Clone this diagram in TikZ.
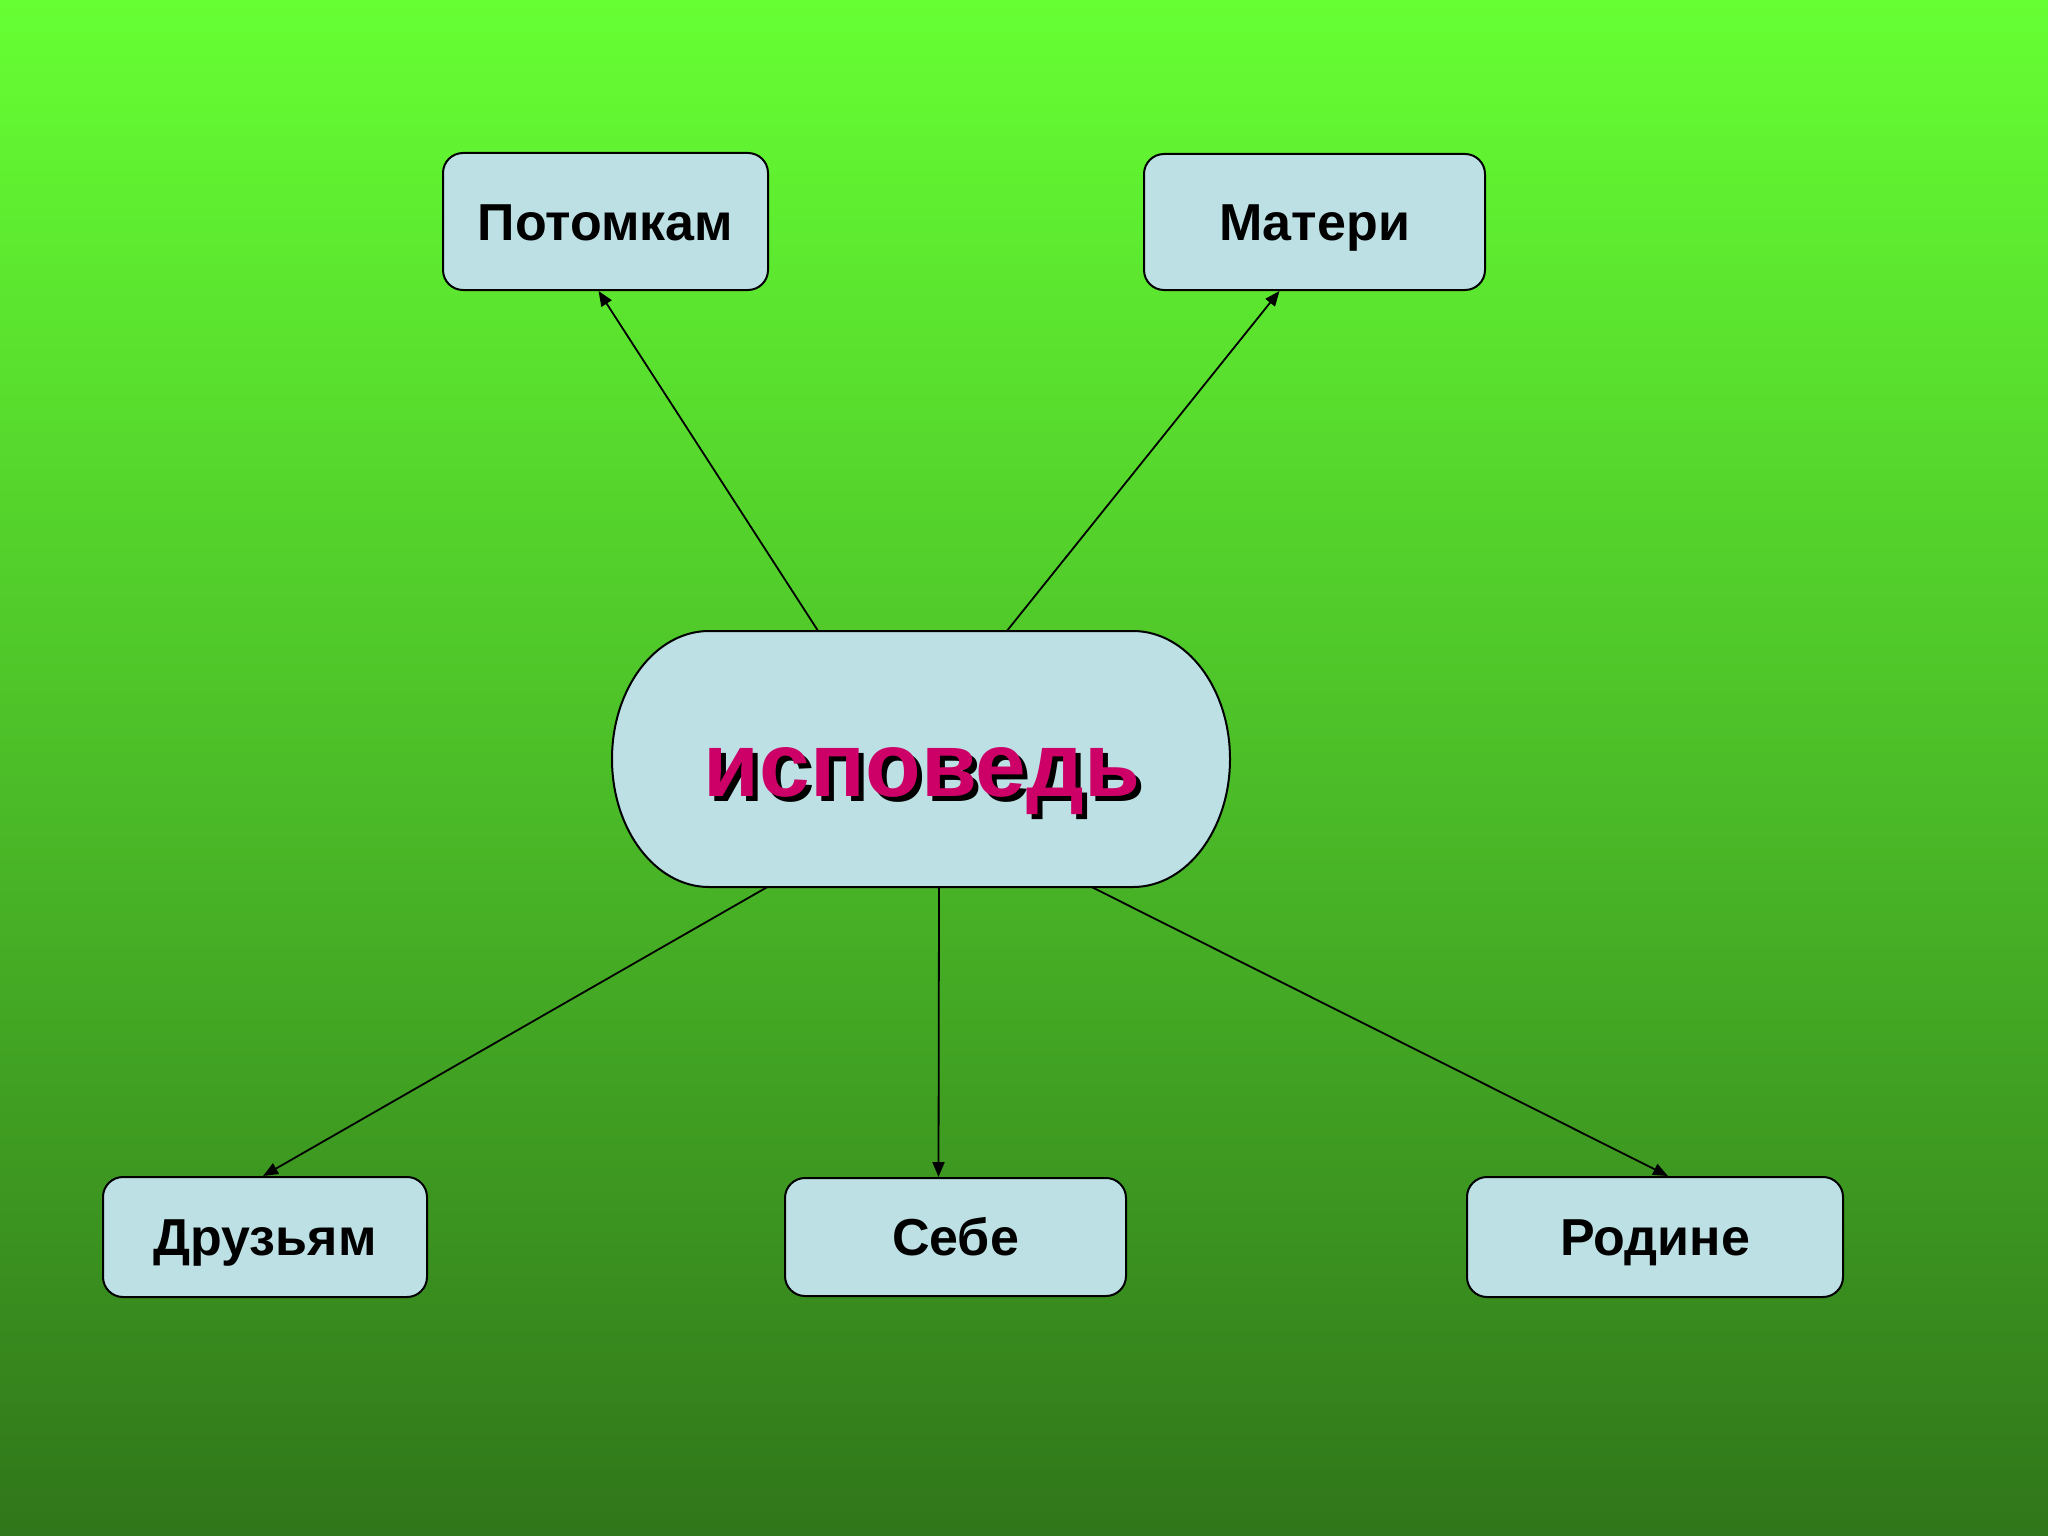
\documentclass[tikz,border=0pt]{standalone}
\usepackage{fontspec}
\setmainfont{Liberation Sans}
\usetikzlibrary{arrows.meta,calc}
\definecolor{bgtop}{RGB}{102,255,51}
\definecolor{bgmid}{RGB}{76,190,40}
\definecolor{bgbot}{RGB}{48,118,26}
\definecolor{boxfill}{RGB}{189,224,229}
\definecolor{pinktext}{RGB}{204,0,102}
\begin{document}
\begin{tikzpicture}[x=1pt,y=-1pt,
  leaf/.style={draw=black, line width=2pt, fill=boxfill, rounded corners=20pt,
    font=\bfseries\fontsize{52}{62}\selectfont, inner sep=0pt,
    text height=37pt, text depth=0pt},
  link/.style={line width=1.8pt, -{Triangle[length=15pt,width=12pt]}},
  bigword/.style={font=\bfseries\fontsize{91}{105}\selectfont, inner sep=0pt,
    text height=47pt, text depth=0pt}]
\useasboundingbox (0,0) rectangle (2048,1536);
\shade[top color=bgtop, bottom color=bgbot, middle color=bgmid] (0,0) rectangle (2048,1536);

% central shape
\draw[line width=2pt, fill=boxfill] (709,631) -- (1133,631)
  arc[start angle=-90, end angle=90, x radius=97, y radius=128] -- (709,887)
  arc[start angle=90, end angle=270, x radius=97, y radius=128] -- cycle;
\node[minimum width=618pt, minimum height=256pt, inner sep=0pt] (core) at (921,759) {};
\node[bigword, text=black] (shadow) at (927,778) {исповедь};
\node[bigword, text=pinktext] (isp) at (922,773) {исповедь};

% leaf boxes
\node[leaf, minimum width=325pt, minimum height=137pt] (pot) at (605.5,221.5) {Потомкам};
\node[leaf, minimum width=341pt, minimum height=136pt] (mat) at (1314.5,222) {Матери};
\node[leaf, minimum width=324pt, minimum height=120pt] (dru) at (265,1237) {Друзьям};
\node[leaf, minimum width=341pt, minimum height=118pt] (seb) at (955.5,1237) {Себе};
\node[leaf, minimum width=376pt, minimum height=120pt] (rod) at (1655,1237) {Родине};

% connectors
\draw[link] ($(core.north)+(-103,0)$) -- ($(pot.south)+(-7,0)$);
\draw[link] ($(core.north)+(86,0)$) -- ($(mat.south)+(-35,0)$);
\draw[link] ($(core.south)+(-154,0)$) -- ($(dru.north)+(-2,0)$);
\draw[link] ($(core.south)+(18,0)$) -- ($(seb.north)+(-17,0)$);
\draw[link] ($(core.south)+(171,0)$) -- ($(rod.north)+(13,0)$);
\end{tikzpicture}
\end{document}
